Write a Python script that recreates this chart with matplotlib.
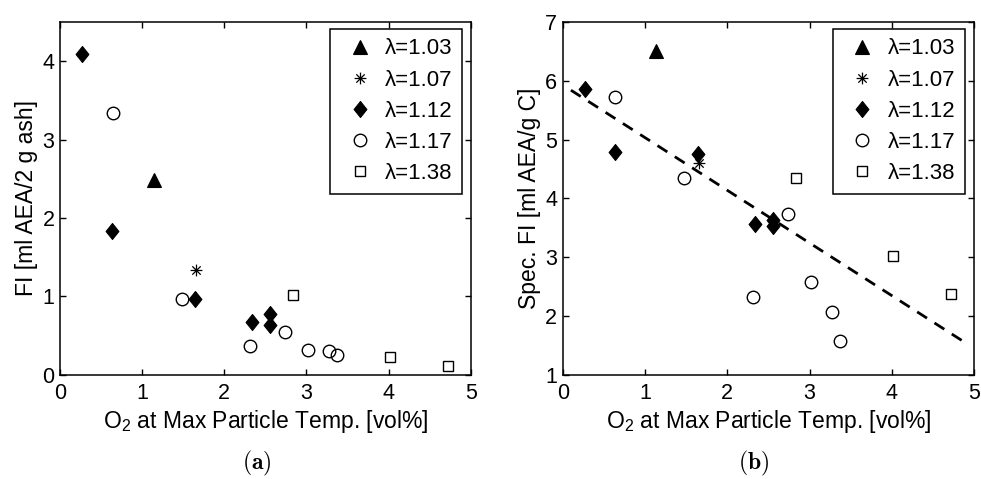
import numpy as np
import matplotlib
matplotlib.use("Agg")
import matplotlib.pyplot as plt
from matplotlib.path import Path

plt.rcParams["font.family"] = ["Liberation Sans", "DejaVu Sans"]
plt.rcParams["mathtext.fontset"] = "custom"
plt.rcParams["mathtext.rm"] = "Liberation Sans"
plt.rcParams["mathtext.it"] = "Liberation Sans:italic"
plt.rcParams["mathtext.bf"] = "Liberation Sans:bold"

# ---- data: O2 at max particle temperature [vol%] and fouling index per excess-air ratio ----
lam_labels = ["λ=1.03", "λ=1.07", "λ=1.12", "λ=1.17", "λ=1.38"]

o2_103 = [1.14]
fi_103 = [2.48]
sfi_103 = [6.51]

o2_107 = [1.66]
fi_107 = [1.34]
sfi_107 = [4.60]

o2_112 = [0.27, 0.63, 1.64, 2.34, 2.56, 2.56]
fi_112 = [4.09, 1.84, 0.96, 0.67, 0.77, 0.63]
sfi_112 = [5.86, 4.79, 4.75, 3.56, 3.63, 3.53]

o2_117 = [0.64, 1.48, 2.31, 2.74, 3.02, 3.27, 3.37]
fi_117 = [3.34, 0.97, 0.37, 0.54, 0.32, 0.30, 0.25]
sfi_117 = [5.72, 4.34, 2.32, 3.73, 2.58, 2.07, 1.58]

o2_138 = [2.84, 4.02, 4.72]
fi_138 = [1.02, 0.22, 0.11]
sfi_138 = [4.34, 3.02, 2.38]

# linear trend for specific FI
trend_slope = -0.896
trend_intercept = 5.93
trend_x = [0.1, 4.9]

# ---- marker shapes ----
diamond = [(0, 1), (0.8, 0), (0, -1), (-0.8, 0), (0, 1)]
s = np.sqrt(0.5)
asterisk = Path(
    [(-1, 0), (1, 0), (0, -1), (0, 1), (-s, -s), (s, s), (-s, s), (s, -s)],
    [Path.MOVETO, Path.LINETO] * 4,
)

styles = [
    dict(marker="^", ms=10.5, mfc="k", mec="k", mew=0.8),
    dict(marker=asterisk, ms=8.5, mfc="none", mec="k", mew=0.9),
    dict(marker=diamond, ms=11.5, mfc="k", mec="k", mew=0.8),
    dict(marker="o", ms=9, mfc="none", mec="k", mew=1.0),
    dict(marker="s", ms=7.2, mfc="none", mec="k", mew=1.0),
]

FS = 15.5

fig = plt.figure(figsize=(9.81, 4.79), dpi=100)
ax1 = fig.add_axes([0.0612, 0.2177, 0.4186, 0.7363])
ax2 = fig.add_axes([0.5736, 0.2177, 0.4193, 0.7363])

series_a = [(o2_103, fi_103), (o2_107, fi_107), (o2_112, fi_112),
            (o2_117, fi_117), (o2_138, fi_138)]
series_b = [(o2_103, sfi_103), (o2_107, sfi_107), (o2_112, sfi_112),
            (o2_117, sfi_117), (o2_138, sfi_138)]

for ax, series in ((ax1, series_a), (ax2, series_b)):
    for (xs, ys), st, lab in zip(series, styles, lam_labels):
        ax.plot(xs, ys, linestyle="none", label=lab, **st)

tx = np.array(trend_x)
ax2.plot(tx, trend_slope * tx + trend_intercept, color="k", lw=2.0,
         linestyle=(0, (4.2, 3.2)), dash_capstyle="butt", zorder=1)

ax1.set_xlim(0, 5)
ax1.set_ylim(0, 4.5)
ax1.set_yticks([0, 1, 2, 3, 4])
ax2.set_xlim(0, 5)
ax2.set_ylim(1, 7)
ax2.set_yticks([1, 2, 3, 4, 5, 6, 7])

ax1.set_ylabel("FI [ml AEA/2 g ash]", fontsize=16.5, labelpad=3)
ax2.set_ylabel("Spec. FI [ml AEA/g C]", fontsize=16.5, labelpad=3)

for ax in (ax1, ax2):
    ax.set_xticks([0, 1, 2, 3, 4, 5])
    ax.set_xlabel("O$_{2}$ at Max Particle Temp. [vol%]", fontsize=16.5,
                  labelpad=3)
    ax.tick_params(direction="in", length=4, width=1, top=True, right=True,
                   labelsize=FS)
    ax.tick_params(axis="x", pad=6)
    ax.tick_params(axis="y", pad=4)
    for sp in ax.spines.values():
        sp.set_linewidth(1.1)

for ax, xr in ((ax1, 462.3), (ax2, 965.0)):
    leg = ax.legend(loc="upper right",
                    bbox_to_anchor=(xr / 981, 1 - 29 / 479),
                    bbox_transform=fig.transFigure,
                    fontsize=16, frameon=True, fancybox=False,
                    borderpad=0.42, labelspacing=0.46, handlelength=1.8,
                    handletextpad=0.25, borderaxespad=0, numpoints=1)
    fr = leg.get_frame()
    fr.set_edgecolor("k")
    fr.set_linewidth(1.1)
    fr.set_alpha(1)

fig.text(257 / 981, 1 - 463 / 479, r"$\mathbf{(a)}$", fontsize=17,
         math_fontfamily="cm", ha="center", va="center")
fig.text(754 / 981, 1 - 463 / 479, r"$\mathbf{(b)}$", fontsize=17,
         math_fontfamily="cm", ha="center", va="center")

fig.savefig("out.png", dpi=100)
